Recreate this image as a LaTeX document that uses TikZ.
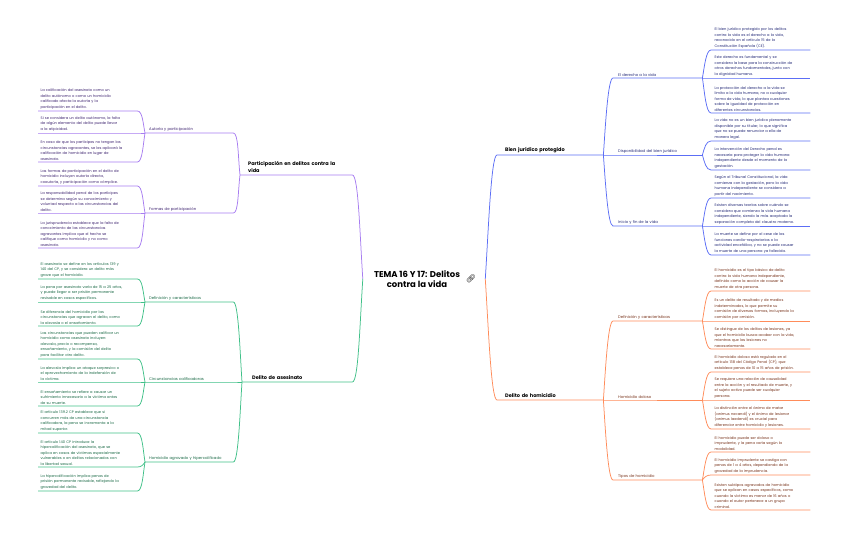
\documentclass[tikz,border=0pt]{standalone}
\usepackage{fontspec}
\setmainfont{Poppins}
\newfontfamily\emojifont{Noto Emoji}
\usepackage{xcolor}
\usetikzlibrary{calc}

\definecolor{purpline}{RGB}{167,125,240}
\definecolor{purptext}{RGB}{62,36,112}
\definecolor{greenline}{RGB}{64,192,136}
\definecolor{greentext}{RGB}{24,104,68}
\definecolor{blueline}{RGB}{92,110,245}
\definecolor{bluetext}{RGB}{34,40,118}
\definecolor{orangeline}{RGB}{255,140,90}
\definecolor{orangetext}{RGB}{118,48,24}

\begin{document}
\begin{tikzpicture}[x=1pt, y=-1pt,
  leaf/.style={anchor=south west, inner xsep=2.5pt, inner ysep=1.5pt, text width=94pt, align=left, font=\fontsize{3.6}{5.5}\selectfont},
  rleaf/.style={leaf, inner xsep=3.5pt, text width=92pt},
  mid/.style={anchor=south west, inner xsep=4pt, inner ysep=1.5pt, text width=80pt, align=left, font=\fontsize{3.8}{5}\selectfont},
  rmid/.style={mid, inner xsep=5pt, text width=79pt},
  head/.style={anchor=south west, inner xsep=8pt, inner ysep=2pt, text width=96pt, align=left, font=\fontsize{5}{7}\selectfont\bfseries},
  pl/.style={purpline, line width=0.75pt},
  gl/.style={greenline, line width=0.75pt},
  bl/.style={blueline, line width=0.75pt},
  ol/.style={orangeline, line width=0.75pt}]
\useasboundingbox (0,0) rectangle (848,534);
\def\lleaf{38}
\def\lmid{145}
\def\rleafx{711}
\def\rmidx{613}

% root
\node[font=\fontsize{8.5}{10.5}\selectfont\bfseries, align=center, inner xsep=11pt] (tema) at (417,279) {TEMA 16 Y 17: Delitos\\contra la vida};
\node[inner xsep=9pt, inner ysep=1pt, text=black, font=\emojifont\fontsize{8}{8}\selectfont] (link) at (471,279) {🔗};

% participacion
\node[head, text=black] (pp) at (240,175) {Participación en delitos contra la\\vida};
\node[mid, text=purptext] (pa) at (\lmid,133) {Autoría y participación};
\node[mid, text=purptext] (pf) at (\lmid,213) {Formas de participación};
\node[leaf, text=purptext] (pa1) at (\lleaf,111) {La calificación del asesinato como un\\delito autónomo o como un homicidio\\calificado afecta la autoría y la\\participación en el delito.};
\node[leaf, text=purptext] (pa2) at (\lleaf,133) {Si se considera un delito autónomo, la falta\\de algún elemento del delito puede llevar\\a la atipicidad.};
\node[leaf, text=purptext] (pa3) at (\lleaf,162) {En caso de que los partícipes no tengan las\\circunstancias agravantes, se les aplicará la\\calificación de homicidio en lugar de\\asesinato.};
\node[leaf, text=purptext] (pf1) at (\lleaf,186) {Las formas de participación en el delito de\\homicidio incluyen autoría directa,\\coautoría, y participación como cómplice.};
\node[leaf, text=purptext] (pf2) at (\lleaf,213) {La responsabilidad penal de los partícipes\\se determina según su conocimiento y\\voluntad respecto a las circunstancias del\\delito.};
\node[leaf, text=purptext] (pf3) at (\lleaf,248) {La jurisprudencia establece que la falta de\\conocimiento de las circunstancias\\agravantes implica que el hecho se\\califique como homicidio y no como\\asesinato.};

\draw[pl] (pp.south west) -- (pp.south east) .. controls +(6,0) and +(-3,-45) .. (tema.west);
\draw[pl] (pa.south west) -- (pa.south east) .. controls +(5,0) and +(-2,-18) .. (pp.south west);
\draw[pl] (pf.south west) -- (pf.south east) .. controls +(5,0) and +(-2,16) .. (pp.south west);
\draw[pl] (pa1.south west) -- (pa1.south east) .. controls +(5,0) and +(-2,-10) .. (pa.south west);
\draw[pl] (pa2.south west) -- (pa2.south east) -- (pa.south west);
\draw[pl] (pa3.south west) -- (pa3.south east) .. controls +(5,0) and +(-2,12) .. (pa.south west);
\draw[pl] (pf1.south west) -- (pf1.south east) .. controls +(5,0) and +(-2,-11) .. (pf.south west);
\draw[pl] (pf2.south west) -- (pf2.south east) -- (pf.south west);
\draw[pl] (pf3.south west) -- (pf3.south east) .. controls +(5,0) and +(-2,14) .. (pf.south west);

% asesinato
\node[head, inner xsep=10pt, text width=90pt, text=black] (ga) at (242,382) {Delito de asesinato};
\node[mid, text=greentext] (gd) at (\lmid,302) {Definición y características};
\node[mid, text=greentext] (gc) at (\lmid,382) {Circunstancias calificadoras};
\node[mid, text=greentext] (gh) at (\lmid,462) {Homicidio agravado y hipercalificado};
\node[leaf, text=greentext] (gd1) at (\lleaf,279) {El asesinato se define en los artículos 139 y\\140 del CP, y se considera un delito más\\grave que el homicidio.};
\node[leaf, text=greentext] (gd2) at (\lleaf,302) {La pena por asesinato varía de 15 a 25 años,\\y puede llegar a ser prisión permanente\\revisable en casos específicos.};
\node[leaf, text=greentext] (gd3) at (\lleaf,326) {Se diferencia del homicidio por las\\circunstancias que agravan el delito, como\\la alevosía o el ensañamiento.};
\node[leaf, text=greentext] (gc1) at (\lleaf,359) {Las circunstancias que pueden calificar un\\homicidio como asesinato incluyen:\\alevosía, precio o recompensa,\\ensañamiento, y la comisión del delito\\para facilitar otro delito.};
\node[leaf, text=greentext] (gc2) at (\lleaf,382) {La alevosía implica un ataque sorpresivo o\\el aprovechamiento de la indefensión de\\la víctima.};
\node[leaf, text=greentext] (gc3) at (\lleaf,406) {El ensañamiento se refiere a causar un\\sufrimiento innecesario a la víctima antes\\de su muerte.};
\node[leaf, text=greentext] (gh1) at (\lleaf,433) {El artículo 139.2 CP establece que si\\concurren más de una circunstancia\\calificadora, la pena se incrementa a la\\mitad superior.};
\node[leaf, text=greentext] (gh2) at (\lleaf,467) {El artículo 140 CP introduce la\\hipercalificación del asesinato, que se\\aplica en casos de víctimas especialmente\\vulnerables o en delitos relacionados con\\la libertad sexual.};
\node[leaf, text=greentext] (gh3) at (\lleaf,491) {La hipercalificación implica penas de\\prisión permanente revisable, reflejando la\\gravedad del delito.};

\draw[gl] (ga.south west) -- (ga.south east) .. controls +(6,0) and +(-3,45) .. (tema.west);
\draw[gl] (gd.south west) -- (gd.south east) .. controls +(5,0) and +(-2,-30) .. (ga.south west);
\draw[gl] (gc.south west) -- (gc.south east) -- (ga.south west);
\draw[gl] (gh.south west) -- (gh.south east) .. controls +(5,0) and +(-2,30) .. (ga.south west);
\draw[gl] (gd1.south west) -- (gd1.south east) .. controls +(5,0) and +(-2,-10) .. (gd.south west);
\draw[gl] (gd2.south west) -- (gd2.south east) -- (gd.south west);
\draw[gl] (gd3.south west) -- (gd3.south east) .. controls +(5,0) and +(-2,10) .. (gd.south west);
\draw[gl] (gc1.south west) -- (gc1.south east) .. controls +(5,0) and +(-2,-10) .. (gc.south west);
\draw[gl] (gc2.south west) -- (gc2.south east) -- (gc.south west);
\draw[gl] (gc3.south west) -- (gc3.south east) .. controls +(5,0) and +(-2,10) .. (gc.south west);
\draw[gl] (gh1.south west) -- (gh1.south east) .. controls +(5,0) and +(-2,-12) .. (gh.south west);
\draw[gl] (gh2.south west) -- (gh2.south east) .. controls +(4,0) and +(-2,3) .. (gh.south west);
\draw[gl] (gh3.south west) -- (gh3.south east) .. controls +(5,0) and +(-2,12) .. (gh.south west);

% bien juridico
\node[head, text width=90pt, text=black] (bb) at (497,155) {Bien jurídico protegido};
\node[rmid, text=bluetext] (bd) at (\rmidx,78) {El derecho a la vida};
\node[rmid, text=bluetext] (bp) at (\rmidx,155) {Disponibilidad del bien jurídico};
\node[rmid, text=bluetext] (bi) at (\rmidx,226) {Inicio y fin de la vida};
\node[rleaf, text=bluetext] (bd1) at (\rleafx,50) {El bien jurídico protegido por los delitos\\contra la vida es el derecho a la vida,\\reconocido en el artículo 15 de la\\Constitución Española (CE).};
\node[rleaf, text=bluetext] (bd2) at (\rleafx,78) {Este derecho es fundamental y se\\considera la base para la construcción de\\otros derechos fundamentales, junto con\\la dignidad humana.};
\node[rleaf, text=bluetext] (bd3) at (\rleafx,113) {La protección del derecho a la vida se\\limita a la vida humana, no a cualquier\\forma de vida, lo que plantea cuestiones\\sobre la igualdad de protección en\\diferentes circunstancias.};
\node[rleaf, text=bluetext] (bp1) at (\rleafx,141) {La vida no es un bien jurídico plenamente\\disponible por su titular, lo que significa\\que no se puede renunciar a ella de\\manera legal.};
\node[rleaf, text=bluetext] (bp2) at (\rleafx,170) {La intervención del Derecho penal es\\necesaria para proteger la vida humana\\independiente desde el momento de la\\gestación.};
\node[rleaf, text=bluetext] (bi1) at (\rleafx,198) {Según el Tribunal Constitucional, la vida\\comienza con la gestación, pero la vida\\humana independiente se considera a\\partir del nacimiento.};
\node[rleaf, text=bluetext] (bi2) at (\rleafx,226) {Existen diversas teorías sobre cuándo se\\considera que comienza la vida humana\\independiente, siendo la más aceptada la\\separación completa del claustro materno.};
\node[rleaf, text=bluetext] (bi3) at (\rleafx,255) {La muerte se define por el cese de las\\funciones cardio-respiratorias o la\\actividad encefálica, y no se puede causar\\la muerte de una persona ya fallecida.};

\draw[bl] (link.east) .. controls +(3,-45) and +(-6,0) .. (bb.south west) -- (bb.south east);
\draw[bl] (bb.south east) .. controls +(2,-30) and +(-5,0) .. (bd.south west) -- (bd.south east);
\draw[bl] (bb.south east) -- (bp.south west) -- (bp.south east);
\draw[bl] (bb.south east) .. controls +(2,28) and +(-5,0) .. (bi.south west) -- (bi.south east);
\draw[bl] (bd.south east) .. controls +(2,-11) and +(-5,0) .. (bd1.south west) -- (bd1.south east);
\draw[bl] (bd.south east) -- (bd2.south west) -- (bd2.south east);
\draw[bl] (bd.south east) .. controls +(2,13) and +(-5,0) .. (bd3.south west) -- (bd3.south east);
\draw[bl] (bp.south east) .. controls +(2,-7) and +(-5,0) .. (bp1.south west) -- (bp1.south east);
\draw[bl] (bp.south east) .. controls +(2,7) and +(-5,0) .. (bp2.south west) -- (bp2.south east);
\draw[bl] (bi.south east) .. controls +(2,-11) and +(-5,0) .. (bi1.south west) -- (bi1.south east);
\draw[bl] (bi.south east) -- (bi2.south west) -- (bi2.south east);
\draw[bl] (bi.south east) .. controls +(2,11) and +(-5,0) .. (bi3.south west) -- (bi3.south east);

% homicidio
\node[head, text width=90pt, text=black] (oh) at (497,400) {Delito de homicidio};
\node[rmid, text=orangetext] (od) at (\rmidx,321) {Definición y características};
\node[rmid, text=orangetext] (oo) at (\rmidx,400) {Homicidio doloso};
\node[rmid, text=orangetext] (ot) at (\rmidx,480) {Tipos de homicidio};
\node[rleaf, text=orangetext] (od1) at (\rleafx,291) {El homicidio es el tipo básico de delito\\contra la vida humana independiente,\\definido como la acción de causar la\\muerte de otra persona.};
\node[rleaf, text=orangetext] (od2) at (\rleafx,321) {Es un delito de resultado y de medios\\indeterminados, lo que permite su\\comisión de diversas formas, incluyendo la\\comisión por omisión.};
\node[rleaf, text=orangetext] (od3) at (\rleafx,349) {Se distingue de los delitos de lesiones, ya\\que el homicidio busca acabar con la vida,\\mientras que las lesiones no\\necesariamente.};
\node[rleaf, text=orangetext] (oo1) at (\rleafx,372) {El homicidio doloso está regulado en el\\artículo 138 del Código Penal (CP), que\\establece penas de 10 a 15 años de prisión.};
\node[rleaf, text=orangetext] (oo2) at (\rleafx,400) {Se requiere una relación de causalidad\\entre la acción y el resultado de muerte, y\\el sujeto activo puede ser cualquier\\persona.};
\node[rleaf, text=orangetext] (oo3) at (\rleafx,429) {La distinción entre el ánimo de matar\\(animus necandi) y el ánimo de lesionar\\(animus laedendi) es crucial para\\diferenciar entre homicidio y lesiones.};
\node[rleaf, text=orangetext] (ot1) at (\rleafx,452) {El homicidio puede ser doloso o\\imprudente, y la pena varía según la\\modalidad.};
\node[rleaf, text=orangetext] (ot2) at (\rleafx,475) {El homicidio imprudente se castiga con\\penas de 1 a 4 años, dependiendo de la\\gravedad de la imprudencia.};
\node[rleaf, text=orangetext] (ot3) at (\rleafx,510) {Existen subtipos agravados de homicidio\\que se aplican en casos específicos, como\\cuando la víctima es menor de 16 años o\\cuando el autor pertenece a un grupo\\criminal.};

\draw[ol] (link.east) .. controls +(3,45) and +(-6,0) .. (oh.south west) -- (oh.south east);
\draw[ol] (oh.south east) .. controls +(2,-30) and +(-5,0) .. (od.south west) -- (od.south east);
\draw[ol] (oh.south east) -- (oo.south west) -- (oo.south east);
\draw[ol] (oh.south east) .. controls +(2,30) and +(-5,0) .. (ot.south west) -- (ot.south east);
\draw[ol] (od.south east) .. controls +(2,-11) and +(-5,0) .. (od1.south west) -- (od1.south east);
\draw[ol] (od.south east) -- (od2.south west) -- (od2.south east);
\draw[ol] (od.south east) .. controls +(2,11) and +(-5,0) .. (od3.south west) -- (od3.south east);
\draw[ol] (oo.south east) .. controls +(2,-11) and +(-5,0) .. (oo1.south west) -- (oo1.south east);
\draw[ol] (oo.south east) -- (oo2.south west) -- (oo2.south east);
\draw[ol] (oo.south east) .. controls +(2,11) and +(-5,0) .. (oo3.south west) -- (oo3.south east);
\draw[ol] (ot.south east) .. controls +(2,-11) and +(-5,0) .. (ot1.south west) -- (ot1.south east);
\draw[ol] (ot.south east) .. controls +(2,-3) and +(-4,0) .. (ot2.south west) -- (ot2.south east);
\draw[ol] (ot.south east) .. controls +(2,12) and +(-5,0) .. (ot3.south west) -- (ot3.south east);
\end{tikzpicture}
\end{document}
